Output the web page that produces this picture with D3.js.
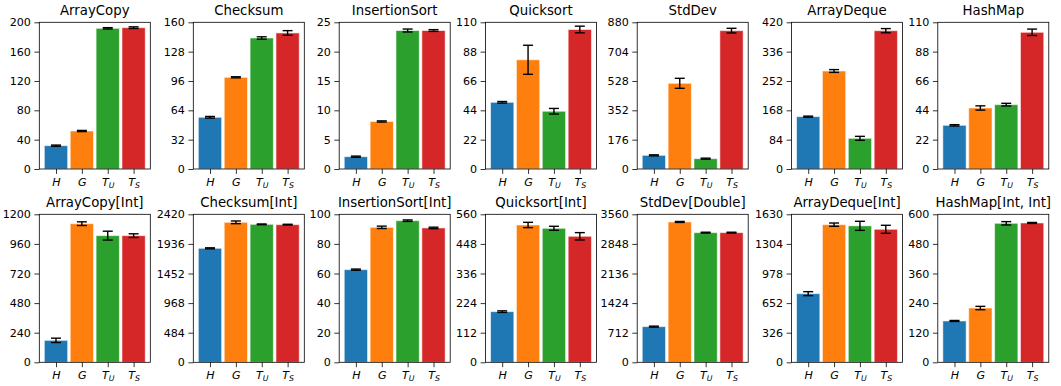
<!DOCTYPE html>
<html><head><meta charset="utf-8">
<script src="https://cdn.jsdelivr.net/npm/d3@7"></script>
<style>body{margin:0;background:#fff}svg{display:block}text{font-family:"DejaVu Sans",sans-serif}</style>
</head><body><div id="c"></div>
<script>
const titles = ["ArrayCopy","Checksum","InsertionSort","Quicksort","StdDev","ArrayDeque","HashMap",
  "ArrayCopy[Int]","Checksum[Int]","InsertionSort[Int]","Quicksort[Int]","StdDev[Double]","ArrayDeque[Int]","HashMap[Int, Int]"];
const categories = ["H","G","TU","TS"];
const catBase = ["H","G","T","T"];
const catSub = ["","","U","S"];
const colors = ["#1f77b4","#ff7f0e","#2ca02c","#d62728"];
const yMax = [200,160,25,110,880,420,110, 1200,2420,100,560,3560,1630,600];
const values = [
  [31.8,51.8,191.8,192.7],
  [56.4,100,142.9,148.4],
  [2.1,8.1,23.6,23.6],
  [50,81.9,43.3,104.6],
  [82,514,62,830],
  [149.9,280.6,87.8,396],
  [32.75,45.75,48.25,102.5],
  [178,1124,1027,1027],
  [1864,2289,2256,2251],
  [62.6,91.2,95.7,90.8],
  [191.7,519.6,507,476.8],
  [858,3376,3119,3119],
  [756,1516,1503,1465],
  [167.6,220,563.5,564.9]
];
const errors = [
  [0.8,0.8,0.9,1.1],
  [0.9,0.6,1.3,2.5],
  [0.1,0.1,0.25,0.15],
  [0.6,10.9,2.1,2.5],
  [3,30,3,14],
  [1.5,4,5.7,6],
  [0.5,1.6,1,2.4],
  [17.6,15,36,15],
  [8,22,6,6],
  [0.4,0.8,0.5,0.5],
  [3,10,7.6,13.9],
  [12,12,10,10],
  [22,18,50,44],
  [2,6.8,6.8,2]
];

const W = 1061, H = 386;
const colLeft = [39.3,193.3,339.2,485.5,637.2,791.5,937.8];
const axW = 111;
const rowTop = [22.3,214.3];
const rowH = [146.7,148];

const svg = d3.select("#c").append("svg").attr("width",W).attr("height",H);

titles.forEach((t,i)=>{
  const r = Math.floor(i/7), c = i%7;
  const x0 = colLeft[c], y0 = rowTop[r], h = rowH[r];
  const g = svg.append("g").attr("transform",`translate(${x0},${y0})`);
  const x = d3.scaleLinear().domain([-0.645,3.645]).range([0,axW]);
  const y = d3.scaleLinear().domain([0,yMax[i]]).range([h,0]);
  const bw = x(0.9)-x(0);
  // bars
  g.selectAll("rect.bar").data(values[i]).enter().append("rect")
    .attr("x",(d,k)=>x(k-0.45)).attr("width",bw)
    .attr("y",d=>y(d)).attr("height",d=>h-y(d))
    .attr("fill",(d,k)=>colors[k]).attr("stroke","#fff").attr("stroke-opacity",0.55).attr("stroke-width",1);
  // error bars
  const eg = g.append("g").attr("stroke","#000").attr("stroke-width",1.4);
  values[i].forEach((v,k)=>{
    const e = errors[i][k], cx = x(k);
    eg.append("line").attr("x1",cx).attr("x2",cx).attr("y1",y(v-e)).attr("y2",y(v+e));
    eg.append("line").attr("x1",cx-5).attr("x2",cx+5).attr("y1",y(v-e)).attr("y2",y(v-e));
    eg.append("line").attr("x1",cx-5).attr("x2",cx+5).attr("y1",y(v+e)).attr("y2",y(v+e));
  });
  // y axis
  const ticks = d3.range(6).map(k=>yMax[i]*k/5);
  const ya = d3.axisLeft(y).tickValues(ticks).tickSize(4.9).tickPadding(3.5).tickFormat(d3.format("d"));
  const yg = g.append("g").call(ya);
  yg.select(".domain").remove();
  yg.selectAll("line").attr("stroke","#000").attr("stroke-width",0.8);
  yg.selectAll("text").attr("font-size","11.1px").attr("fill","#000").attr("font-family","DejaVu Sans");
  // x axis ticks
  const xa = d3.axisBottom(x).tickValues([0,1,2,3]).tickSize(4.9).tickFormat("");
  const xg = g.append("g").attr("transform",`translate(0,${h})`).call(xa);
  xg.select(".domain").remove();
  xg.selectAll("line").attr("stroke","#000").attr("stroke-width",0.8);
  xg.selectAll(".tick").each(function(d){
    const tx = d3.select(this).append("text").attr("y",16.5).attr("text-anchor","middle")
      .attr("fill","#000").attr("font-size","11.1px").attr("font-style","italic").attr("font-family","DejaVu Sans");
    tx.append("tspan").text(catBase[d]);
    if (catSub[d]) tx.append("tspan").attr("dy",2.6).attr("font-size","7.8px").text(catSub[d]);
  });
  // frame
  g.append("rect").attr("x",0).attr("y",0).attr("width",axW).attr("height",h)
    .attr("fill","none").attr("stroke","#000").attr("stroke-width",0.8);
  // title
  g.append("text").attr("x",axW/2).attr("y",-7).attr("text-anchor","middle")
    .attr("font-size","13.3px").attr("fill","#000").text(t);
});
</script></body></html>
